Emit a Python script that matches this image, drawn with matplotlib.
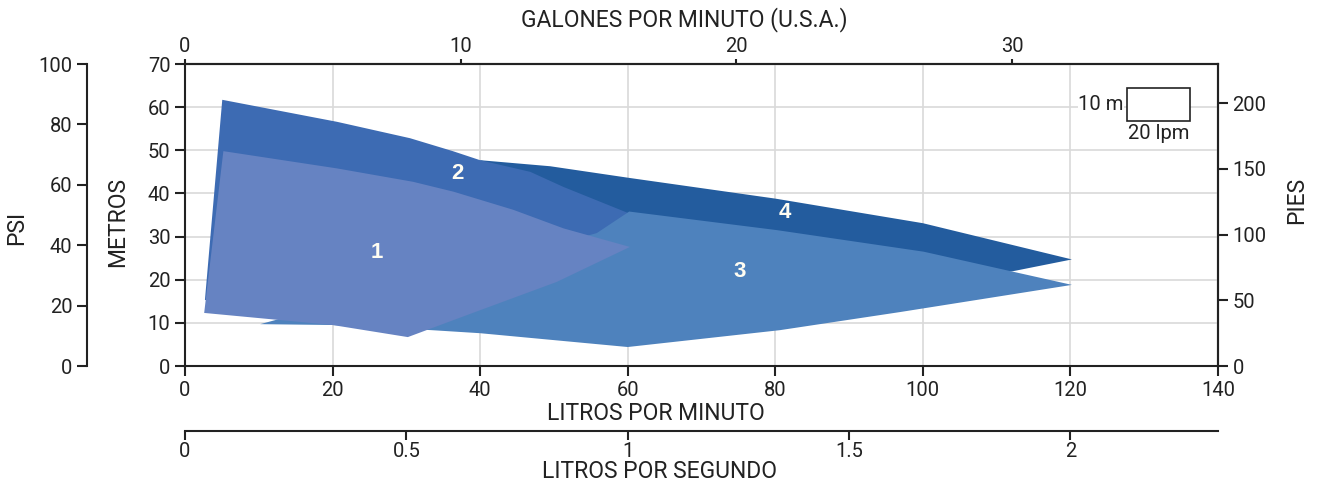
"""Pump performance envelopes: head (m) vs flow (L/min), four models."""
import matplotlib
matplotlib.use("Agg")
import matplotlib.pyplot as plt
from matplotlib.patches import Polygon, Rectangle

plt.rcParams["font.family"] = ["Roboto", "DejaVu Sans"]

# envelope outlines: flow (L/min), head (m)
Q1 = [2.6, 5.2, 20.6, 30.9, 36.4, 44.5, 51.3, 60.3, 50.4, 39.0, 30.2, 20.0]
H1 = [12.3, 49.8, 45.8, 42.7, 40.4, 36.2, 31.9, 27.6, 19.5, 12.3, 6.7, 9.5]

Q2 = [2.7, 5.05, 20.6, 30.5, 36.3, 40.0, 46.8, 51.3, 60.0, 56.0, 40.0, 20.0]
H2 = [15.3, 61.7, 56.6, 52.8, 49.8, 47.7, 45.0, 41.5, 35.5, 29.0, 20.0, 14.0]

Q3 = [10.2, 55.8, 60.2, 80.2, 100.1, 112.1, 120.2, 96.9, 80.6, 60.0, 40.0, 33.5, 20.0]
H3 = [9.7, 30.8, 35.8, 31.5, 26.5, 21.9, 18.8, 12.5, 8.3, 4.4, 7.6, 8.3, 9.5]

Q4 = [40.0, 49.5, 60.2, 80.0, 100.0, 120.2, 112.0, 100.0, 60.0, 45.0]
H4 = [47.7, 46.3, 43.6, 38.8, 33.1, 24.7, 21.9, 22.0, 25.0, 32.0]

NAMES = ["1", "2", "3", "4"]
LABEL_Q = [26.0, 36.9, 75.1, 81.3]
LABEL_H = [26.4, 44.7, 21.8, 35.5]

M_TICKS = [0, 10, 20, 30, 40, 50, 60, 70]
LPM_TICKS = [0, 20, 40, 60, 80, 100, 120, 140]
GPM_TICKS = [0, 10, 20, 30]
LPS_TICKS = [0, 0.5, 1, 1.5, 2]
LPS_LABELS = ["0", "0.5", "1", "1.5", "2"]
PSI_TICKS = [0, 20, 40, 60, 80, 100]
FT_TICKS = [0, 50, 100, 150, 200]

L_PER_GAL = 3.736
PSI_PER_M = 100 / 70
FT_PER_M = 3.281

COLORS = {"1": "#6683c2", "2": "#3d6bb3", "3": "#4e82bd", "4": "#235c9e"}
INK = "#222222"
W, H = 1317, 483
TICK_FS = 14.5
LABEL_FS = 16.5


def style_axis(a, spine, length=7):
    a.tick_params(colors=INK, labelsize=TICK_FS, width=1.5, length=length)
    a.spines[spine].set_linewidth(1.5)
    a.spines[spine].set_color(INK)


def main():
    fig = plt.figure(figsize=(W / 100, H / 100), dpi=100)
    ax = fig.add_axes([185 / W, 1 - 366 / H, (1218 - 185) / W, (366 - 64) / H])
    ax.set_xlim(0, 140)
    ax.set_ylim(0, 70)

    shapes = {"1": (Q1, H1), "2": (Q2, H2), "3": (Q3, H3), "4": (Q4, H4)}
    for z, key in enumerate(["4", "2", "3", "1"]):
        q, h = shapes[key]
        ax.add_patch(Polygon(list(zip(q, h)), closed=True, facecolor=COLORS[key],
                             edgecolor="none", zorder=2 + z))
    for name, q, h in zip(NAMES, LABEL_Q, LABEL_H):
        ax.text(q, h, name, color="#fffdf2", fontsize=16, fontweight="bold",
                ha="center", va="center", zorder=10,
                family=["Liberation Sans", "DejaVu Sans"])

    ax.grid(True, color="#d9d9d9", lw=1.2, zorder=0)
    ax.set_axisbelow(True)
    for s in ax.spines.values():
        s.set_color(INK)
        s.set_linewidth(1.5)
    ax.set_xticks(LPM_TICKS)
    ax.set_yticks(M_TICKS)
    ax.tick_params(colors=INK, labelsize=TICK_FS, width=1.5, length=7)

    top = ax.secondary_xaxis("top", functions=(lambda q: q / L_PER_GAL,
                                                lambda g: g * L_PER_GAL))
    top.set_xticks(GPM_TICKS)
    style_axis(top, "top", length=3.5)
    top.tick_params(pad=2)

    lps = ax.secondary_xaxis(-65 / 302, functions=(lambda q: q / 60,
                                                    lambda s: s * 60))
    lps.set_xticks(LPS_TICKS, LPS_LABELS)
    style_axis(lps, "bottom", length=6.5)
    lps.tick_params(pad=1.5)

    psi = ax.secondary_yaxis(-98 / 1033, functions=(lambda m: m * PSI_PER_M,
                                                     lambda p: p / PSI_PER_M))
    psi.set_yticks(PSI_TICKS)
    style_axis(psi, "left")

    ft = ax.secondary_yaxis("right", functions=(lambda m: m * FT_PER_M,
                                                 lambda f: f / FT_PER_M))
    ft.set_yticks(FT_TICKS)
    style_axis(ft, "right")

    # scale key
    ax.add_patch(Rectangle((127.7, 56.8), 8.5, 7.6, facecolor="white",
                           edgecolor=INK, lw=1.2, zorder=6))
    ax.text(127.2, 60.6, "10 m", ha="right", va="center", fontsize=TICK_FS,
            color=INK, zorder=6, bbox=dict(fc="white", ec="none", pad=0.5))
    ax.text(131.95, 53.9, "20 lpm", ha="center", va="center", fontsize=TICK_FS,
            color=INK, zorder=6)

    kw = dict(fontsize=LABEL_FS, color=INK, ha="center", va="center")
    fig.text(684 / W, 1 - 20 / H, "GALONES POR MINUTO (U.S.A.)", **kw)
    fig.text(656 / W, 1 - 413 / H, "LITROS POR MINUTO", **kw)
    fig.text(659 / W, 1 - 472 / H, "LITROS POR SEGUNDO", **kw)
    fig.text(118 / W, 1 - 222 / H, "METROS", rotation=90, **kw)
    fig.text(17 / W, 1 - 228 / H, "PSI", rotation=90, **kw)
    fig.text(1297 / W, 1 - 200 / H, "PIES", rotation=90, **kw)

    fig.savefig("out.png", dpi=100)


if __name__ == "__main__":
    main()
